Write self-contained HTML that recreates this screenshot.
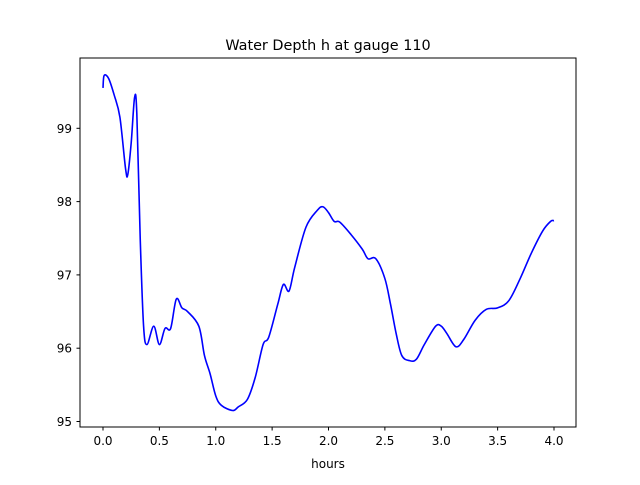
<!DOCTYPE html>
<html><head><meta charset="utf-8"><style>
body{margin:0;background:#fff;}
svg text{font-family:"DejaVu Sans","Liberation Sans",sans-serif;fill:#000;}
</style></head><body>
<svg id="chart" width="640" height="480" xmlns="http://www.w3.org/2000/svg">
<rect width="640" height="480" fill="#fff"/>
<text x="328" y="50" font-size="14.4" text-anchor="middle">Water Depth h at gauge 110</text>
<g id="ticks"></g>
<path id="line" fill="none" stroke="#0000ff" stroke-width="1.6"/>
<rect x="80" y="58" width="496" height="369" fill="none" stroke="#000" stroke-width="1"/>
<text x="328" y="468" font-size="12" text-anchor="middle">hours</text>
</svg>
<script>
const hours=[0,0.01,0.05,0.1,0.15,0.2,0.22,0.25,0.28,0.3,0.33,0.36,0.39,0.45,0.5,0.55,0.6,0.65,0.7,0.75,0.85,0.9,0.95,1.0,1.05,1.15,1.2,1.28,1.35,1.42,1.47,1.55,1.6,1.65,1.7,1.8,1.9,1.95,2.0,2.05,2.1,2.2,2.3,2.35,2.42,2.5,2.55,2.6,2.65,2.72,2.78,2.85,2.95,3.0,3.05,3.13,3.2,3.3,3.4,3.5,3.6,3.7,3.8,3.9,3.97,4.0];
const depth=[99.55,99.72,99.68,99.45,99.15,98.45,98.37,98.8,99.42,99.2,97.5,96.3,96.05,96.3,96.05,96.27,96.27,96.67,96.55,96.5,96.3,95.9,95.65,95.35,95.22,95.15,95.2,95.3,95.6,96.05,96.15,96.6,96.87,96.78,97.1,97.65,97.88,97.93,97.85,97.73,97.72,97.55,97.35,97.22,97.22,96.95,96.6,96.2,95.9,95.83,95.85,96.05,96.3,96.3,96.2,96.02,96.12,96.38,96.53,96.55,96.65,96.95,97.3,97.6,97.73,97.74];
const xTicks=[0,0.5,1,1.5,2,2.5,3,3.5,4];
const xTickLabels=["0.0","0.5","1.0","1.5","2.0","2.5","3.0","3.5","4.0"];
const yTicks=[95,96,97,98,99];
const yTickLabels=["95","96","97","98","99"];
const X=v=>103+v*112.75;
const Y=v=>421.5-(v-95)*73.3;
const NS="http://www.w3.org/2000/svg";
const g=document.getElementById('ticks');
function mk(tag,attrs){const e=document.createElementNS(NS,tag);for(const k in attrs)e.setAttribute(k,attrs[k]);return e;}
xTicks.forEach((t,i)=>{
 const l=mk('line',{x1:X(t),x2:X(t),y1:427,y2:430.5,stroke:'#000'});
 
 
 g.appendChild(l);
 const tx=mk('text',{x:X(t),y:445,'font-size':12,'text-anchor':'middle'});
 tx.textContent=xTickLabels[i];
 
 
 g.appendChild(tx);
});
yTicks.forEach((t,i)=>{
 const l=mk('line',{x1:76.5,x2:80,y1:Y(t),y2:Y(t),stroke:'#000'});
 
 
 g.appendChild(l);
 const tx=mk('text',{x:72,y:Y(t)+4.5,'font-size':12,'text-anchor':'end'});
 tx.textContent=yTickLabels[i];
 
 
 g.appendChild(tx);
});
const P=hours.map((h,i)=>[X(h),Y(depth[i])]);
let d='M'+P[0][0]+','+P[0][1];
for(let i=0;i<P.length-1;i++){
 const p0=P[Math.max(0,i-1)],p1=P[i],p2=P[i+1],p3=P[Math.min(P.length-1,i+2)];
 const c1=[p1[0]+(p2[0]-p0[0])/6,p1[1]+(p2[1]-p0[1])/6];
 const c2=[p2[0]-(p3[0]-p1[0])/6,p2[1]-(p3[1]-p1[1])/6];
 d+=` C${c1[0]},${c1[1]} ${c2[0]},${c2[1]} ${p2[0]},${p2[1]}`;
}
document.getElementById('line').setAttribute('d',d);
</script>
</body></html>
